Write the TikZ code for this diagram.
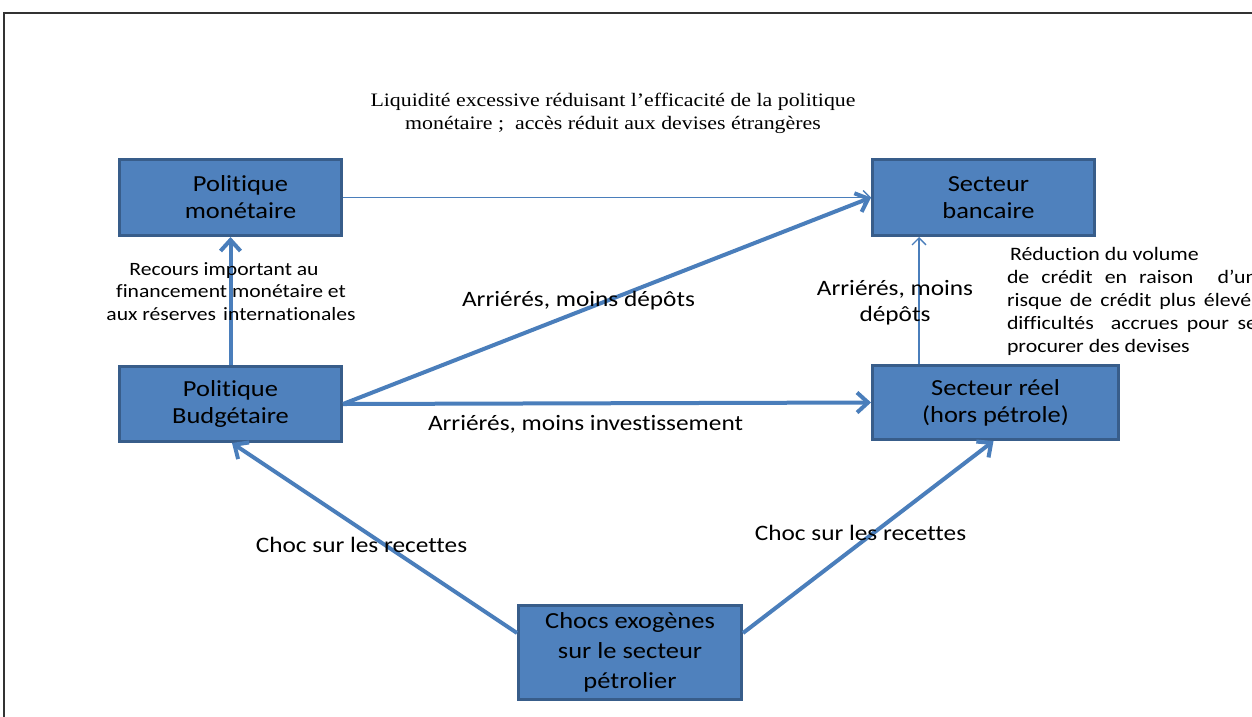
\documentclass[tikz,border=0pt]{standalone}
\usepackage{fontspec}
\setmainfont{Carlito}[FakeStretch=1.15, Ligatures={NoCommon}]
\newfontfamily\tms{Liberation Serif}[FakeStretch=1.15]
\usetikzlibrary{arrows.meta}
\definecolor{boxfill}{HTML}{4F81BD}
\definecolor{boxline}{HTML}{385D8A}
\definecolor{arrowc}{HTML}{4A7EBB}
\begin{document}
\begin{tikzpicture}[x=1pt,y=-1pt,
  box/.style={draw=boxline, line width=3pt, fill=boxfill, align=center, inner sep=0pt,
    font=\fontsize{23}{27}\selectfont},
  bigarrow/.style={draw=arrowc, line width=4pt, -{Straight Barb[length=11pt,width=20pt]}},
  thinarrow/.style={draw=arrowc, line width=1.3pt, -{Straight Barb[length=7pt,width=14pt]}},
  lbl/.style={align=center, inner sep=0pt, font=\fontsize{22}{26}\selectfont},
  small/.style={align=center, inner sep=0pt, font=\fontsize{18.8}{22.5}\selectfont}]
\path[use as bounding box] (0,0) rectangle (1252,716);
\draw[line width=1.5pt, draw=black!80] (4,730) -- (4,13) -- (1270,13);

\node[box, minimum width=222pt, minimum height=76pt] (pm) at (230.5,197.5) {\hspace*{20pt}Politique\\\hspace*{20pt}monétaire};
\node[box, minimum width=222pt, minimum height=76pt] (banc) at (983.5,197.5) {\hspace*{10pt}Secteur\\\hspace*{10pt}bancaire};
\node[box, minimum width=222pt, minimum height=75pt] (pb) at (230.5,404) {Politique\\Budgétaire};
\node[box, minimum width=246pt, minimum height=74pt] (reel) at (995.5,402.5) {Secteur réel\\(hors pétrole)};
\node[box, minimum width=223pt, minimum height=94pt, font=\fontsize{23}{30}\selectfont] (chocs) at (630,652.5) {Chocs exogènes\\sur le secteur\\pétrolier};

\draw[thinarrow] (pm.east) -- (banc.west);
\draw[bigarrow] (pb.north) -- (pm.south);
\draw[bigarrow] (pb.east) -- (banc.west);
\draw[bigarrow] (pb.east) -- (reel.west);
\coordinate (rb) at ([xshift=-76.5pt]reel.north);
\draw[thinarrow] (rb) -- (rb |- banc.south);
\draw[bigarrow] ([yshift=-29pt]chocs.north west) -- ([xshift=1.5pt]pb.south);
\draw[bigarrow] ([yshift=-29pt]chocs.north east) -- ([xshift=-2pt]reel.south);

\node[align=center, inner sep=0pt, font=\tms\fontsize{19}{23}\selectfont] (top) at (613,113.5)
  {Liquidité excessive réduisant l’efficacité de la politique\\monétaire ;\ \ accès réduit aux devises étrangères};
\node[lbl] (l1) at (578.5,301) {Arriérés, moins dépôts};
\node[lbl] (l2) at (585.5,424) {Arriérés, moins investissement};
\node[lbl] (l3) at (895,303) {Arriérés, moins\\dépôts};
\node[lbl] (l4) at (361.5,545) {Choc sur les recettes};
\node[lbl] (l5) at (860.5,533) {Choc sur les recettes};
\node[small] (l6) at (231,291.5) {Recours important au\hspace*{14pt}\\financement monétaire et\\aux réserves\hspace{7pt}internationales};
\node[small, font=\fontsize{19}{23}\selectfont, align=justify, text width=250pt] (l7) at (1132,301)
  {\hspace*{3pt}Réduction du volume\\de crédit en raison\ \ d’un\linebreak
   risque de crédit plus élevé;\linebreak difficultés\ \ accrues pour se\linebreak procurer des devises};
\end{tikzpicture}
\end{document}
